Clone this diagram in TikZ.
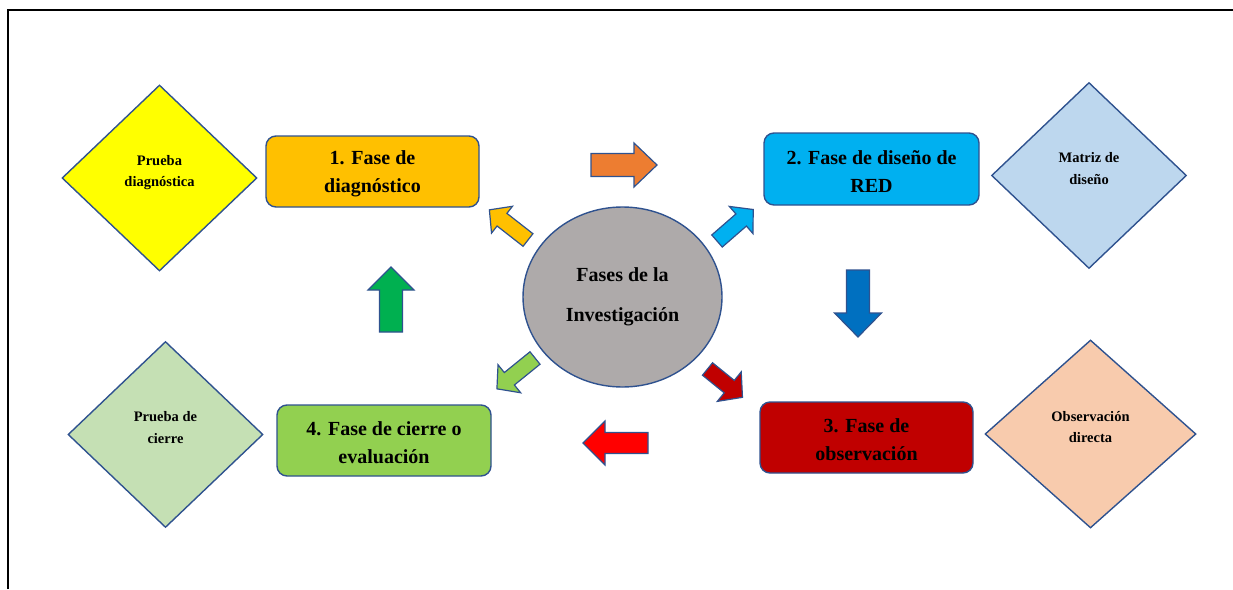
\documentclass[tikz,border=0pt]{standalone}
\usepackage{fontspec}
\setmainfont{Liberation Serif}
\usetikzlibrary{shapes.geometric}
\definecolor{edgeblue}{HTML}{2F528F}
\definecolor{cOrange}{HTML}{FFC000}
\definecolor{cCyan}{HTML}{00B0F0}
\definecolor{cDarkRed}{HTML}{C00000}
\definecolor{cLime}{HTML}{92D050}
\definecolor{cYellow}{HTML}{FFFF00}
\definecolor{cLightBlue}{HTML}{BDD7EE}
\definecolor{cPeach}{HTML}{F8CBAD}
\definecolor{cPaleGreen}{HTML}{C5E0B4}
\definecolor{cGrey}{HTML}{AEAAAA}
\definecolor{cArrOrange}{HTML}{ED7D31}
\definecolor{cArrBlue}{HTML}{0070C0}
\definecolor{cArrRed}{HTML}{FF0000}
\definecolor{cArrGreen}{HTML}{00B050}
\tikzset{
  phasebox/.style={draw=edgeblue, line width=1.4pt, rounded corners=10pt,
    minimum width=213pt, minimum height=71pt, align=center,
    text height=47pt, font=\fontsize{20}{28}\selectfont\bfseries, inner sep=2pt},
  toolbox/.style={draw=edgeblue, line width=1.4pt, shape=diamond,
    minimum width=195pt, minimum height=186pt, inner sep=0pt, align=center,
    text depth=14pt, font=\fontsize{14.5}{21.5}\selectfont\bfseries},
  hub/.style={draw=edgeblue, line width=1.4pt, shape=ellipse, fill=cGrey,
    minimum width=199pt, minimum height=180pt, align=center, inner sep=0pt,
    font=\fontsize{20}{40}\selectfont\bfseries},
  arrowshape/.style={draw=edgeblue, line width=1.2pt, line join=miter},
  frameline/.style={draw=black, line width=2pt}
}
% #1 name, #2 colour, #3 tail point, #4 angle, #5 length, #6 shaft half width, #7 head half width, #8 head length
\newcommand\blkarrow[8]{%
  \begin{scope}[shift={#3}, rotate=#4]
    \draw[arrowshape, fill=#2] (0,-#6) -- ({#5-#8},-#6) -- ({#5-#8},-#7) -- (#5,0)
      -- ({#5-#8},#7) -- ({#5-#8},#6) -- (0,#6) -- cycle;
    \coordinate (#1) at (#5,0);
  \end{scope}}
\begin{document}
\begin{tikzpicture}[x=1pt,y=-1pt]
\useasboundingbox (0,0) rectangle (1233,589);
% frame
\coordinate (fa) at (8,589);
\coordinate (fb) at (8,10);
\coordinate (fc) at (1233,10);
\draw[frameline] (fa) -- (fb) -- (fc);

% diamonds
\node[toolbox, fill=cYellow] (d1) at (159.5,178) {Prueba\\diagnóstica};
\node[toolbox, fill=cLightBlue] (d2) at (1089,175.5) {Matriz de\\diseño};
\node[toolbox, fill=cPeach, minimum width=211pt, minimum height=188pt] (d3) at (1090.5,434) {Observación\\directa};
\node[toolbox, fill=cPaleGreen] (d4) at (165.5,434.5) {Prueba de\\cierre};

% phase boxes
\node[phasebox, fill=cOrange] (p1) at (372.5,171.5) {1. Fase de\\diagnóstico};
\node[phasebox, fill=cCyan, minimum width=215pt, minimum height=72pt] (p2) at (871.5,169) {2. Fase de diseño de\\RED};
\node[phasebox, fill=cDarkRed] (p3) at (866.5,437.5) {3. Fase de\\observación};
\node[phasebox, fill=cLime, minimum width=214pt] (p4) at (384,440.5) {4. Fase de cierre o\\evaluación};

% hub
\node[hub] (hub) at (622.5,297) {Fases de la\\Investigación};

% block arrows
\blkarrow{aOrange}{cArrOrange}{(591,165)}{0}{66}{11.5}{22}{23}
\blkarrow{aYellow}{cOrange}{(528,240)}{142}{49}{8}{17}{16}
\blkarrow{aCyan}{cCyan}{(717,241)}{41}{48}{8}{18}{16}
\blkarrow{aLime}{cLime}{(535,358)}{219}{49}{8}{18}{16}
\blkarrow{aDarkRed}{cDarkRed}{(707.5,369)}{-39}{45}{8}{19}{17}
\blkarrow{aBlue}{cArrBlue}{(858,270)}{-90}{67}{11.5}{23.5}{24}
\blkarrow{aRed}{cArrRed}{(648,443)}{180}{65}{10.5}{22}{22}
\blkarrow{aGreen}{cArrGreen}{(391,332)}{90}{65}{11.5}{23}{23}
\end{tikzpicture}
\end{document}
